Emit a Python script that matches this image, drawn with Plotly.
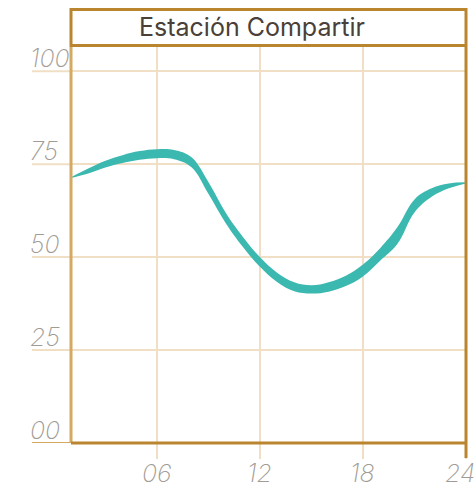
import plotly.graph_objects as go

# Hourly occupancy band for the station (lower / upper bound, %)
hours = list(range(1, 25))
upper = [71.5, 73.8, 75.9, 77.4, 78.5, 79.0, 78.8, 76.9, 70.2, 62.0, 55.5, 50.0,
         45.8, 43.2, 42.4, 43.2, 45.0, 48.0, 52.4, 58.0, 65.5, 68.5, 69.8, 70.1]
lower = [71.3, 72.5, 74.1, 75.3, 76.2, 76.6, 76.3, 74.2, 67.0, 59.2, 52.8, 47.4,
         43.3, 40.8, 40.2, 40.7, 42.2, 44.8, 49.0, 53.5, 62.0, 66.2, 68.5, 69.8]

x_ticks = [6, 12, 18, 24]
x_labels = ["06", "12", "18", "24"]
y_ticks = [0, 25, 50, 75, 100]
y_labels = ["00", "25", "50", "75", "100"]
title = "Estación Compartir"

TEAL = "#3bb9b0"
GRID = "#f1dfc5"
GOLD = "#b9852f"
GOLD_LIGHT = "#d4a961"
LABEL = "#a19b95"
FONT = "Inter"

fig = go.Figure()
fig.add_trace(go.Scatter(x=hours, y=lower, mode="lines",
                         line=dict(color=TEAL, width=0, shape="spline", smoothing=1.1),
                         hoverinfo="skip", showlegend=False))
fig.add_trace(go.Scatter(x=hours, y=upper, mode="lines", fill="tonexty",
                         fillcolor=TEAL,
                         line=dict(color=TEAL, width=0, shape="spline", smoothing=1.1),
                         hoverinfo="skip", showlegend=False))

W, H = 474, 487
ml, mr, mt, mb = 71, 8, 47, 44
pw = W - ml - mr
ph = H - mt - mb

def px_to_paper_x(px):
    return (px - ml) / pw

def px_to_paper_y(py):
    return (H - mb - py) / ph

shapes = []
# y grid extensions to the left of the plot
for v in y_ticks:
    shapes.append(dict(type="line", xref="paper", yref="y",
                       x0=px_to_paper_x(32), x1=0, y0=v, y1=v,
                       line=dict(color=GOLD_LIGHT if v == 0 else GRID, width=2)))
# plot frame
shapes.append(dict(type="line", xref="paper", yref="paper", x0=0, x1=0, y0=0,
                   y1=1, line=dict(color=GOLD_LIGHT, width=3)))
shapes.append(dict(type="line", xref="paper", yref="paper", x0=0, x1=1, y0=0,
                   y1=0, line=dict(color=GOLD, width=3)))
shapes.append(dict(type="line", xref="paper", yref="paper", x0=1, x1=1,
                   y0=px_to_paper_y(458), y1=1, line=dict(color=GOLD, width=3)))
# title box
shapes.append(dict(type="rect", xref="paper", yref="paper",
                   x0=0, x1=1, y0=px_to_paper_y(45.5), y1=px_to_paper_y(9.5),
                   line=dict(color=GOLD, width=3), fillcolor="white"))

label_font = dict(family=FONT, size=25, color=LABEL, style="italic", weight=200)

annotations = [dict(text=title, xref="paper", yref="paper",
                    x=px_to_paper_x(252), y=px_to_paper_y(27.5),
                    xanchor="center", yanchor="middle", showarrow=False,
                    font=dict(family=FONT, size=25, color="#4a4038", weight=400))]
for v, t in zip(y_ticks, y_labels):
    annotations.append(dict(text=t, xref="paper", yref="y",
                            x=px_to_paper_x(28), y=v, xanchor="left",
                            yanchor="bottom", yshift=-4, showarrow=False,
                            font=label_font))
for v, t in zip(x_ticks, x_labels):
    annotations.append(dict(text=t, xref="x", yref="paper",
                            x=v, y=px_to_paper_y(473), xanchor="center",
                            yanchor="middle", xshift=-6 if v == 24 else 0,
                            showarrow=False, font=label_font))

fig.update_layout(
    width=W, height=H,
    margin=dict(l=ml, r=mr, t=mt, b=mb),
    paper_bgcolor="white", plot_bgcolor="white",
    shapes=shapes, annotations=annotations,
    xaxis=dict(range=[1, 24], tickvals=x_ticks, showticklabels=False,
               showgrid=True, gridcolor=GRID, gridwidth=2,
               ticks="outside", ticklen=15, tickwidth=2, tickcolor=GRID,
               zeroline=False, showline=False, automargin=False),
    yaxis=dict(range=[0, 106.5], tickvals=y_ticks, showticklabels=False,
               showgrid=True, gridcolor=GRID, gridwidth=2,
               zeroline=False, showline=False, automargin=False),
)

fig.write_html("out.html")
